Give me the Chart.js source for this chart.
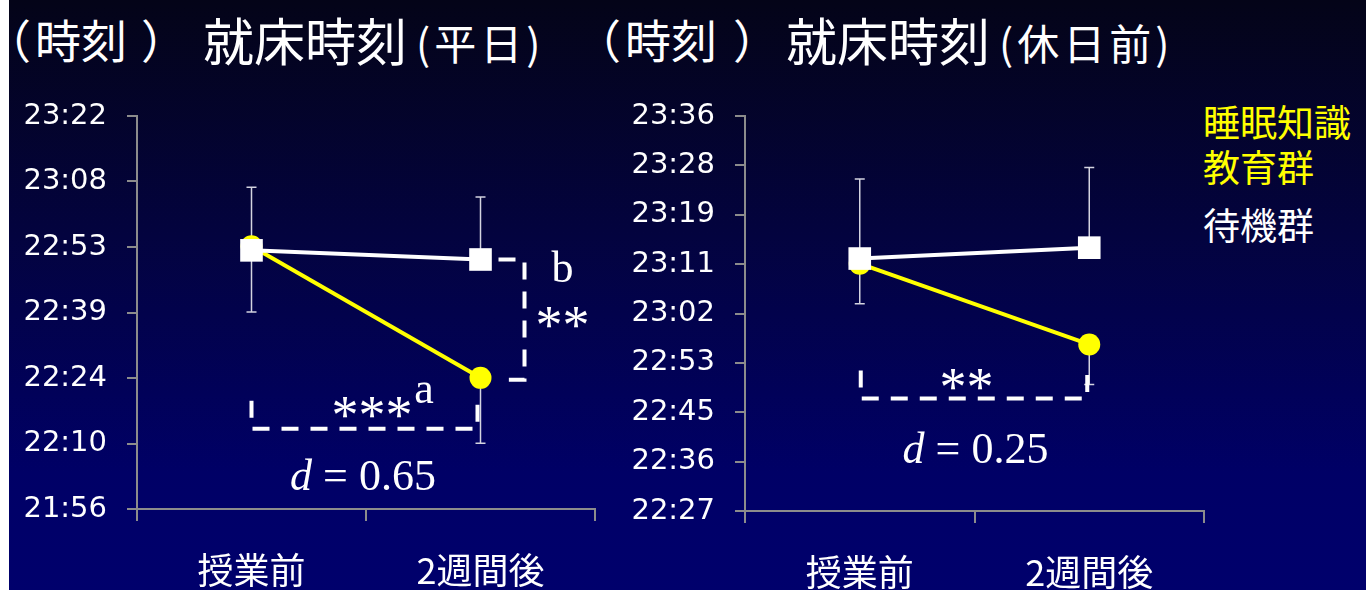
<!DOCTYPE html>
<html lang="ja">
<head>
<meta charset="utf-8">
<title>就床時刻</title>
<script src="https://cdn.jsdelivr.net/npm/chart.js@4.4.1/dist/chart.umd.min.js"></script>
<style>
  html, body { margin: 0; padding: 0; }
  body {
    width: 1366px; height: 590px; overflow: hidden; position: relative;
    background: linear-gradient(to bottom, #040418 0%, #03033f 40%, #000066 80%, #00006c 100%);
    font-family: 'Noto Sans CJK JP', sans-serif; color: #fff;
  }
  .edge { position: absolute; left: 0; top: 0; width: 9px; height: 590px; background: #fff; }
  .t { position: absolute; white-space: nowrap; line-height: 1; }
  .unit { font-size: 46px; top: 15px; }
  .main { font-size: 51px; top: 14px; }
  .sub { font-size: 42px; top: 21px; letter-spacing: 4px; }
  canvas { position: absolute; top: 0; }
  #weekday { left: 0; }
  #holiday { left: 620px; }
  .legend { position: absolute; left: 1203px; font-size: 37px; line-height: 1; white-space: nowrap; }
</style>
</head>
<body>
<div class="edge"></div>

<div class="t unit" style="left:-15px">（</div>
<div class="t unit" style="left:35px">時刻</div>
<div class="t unit" style="left:141px">）</div>
<div class="t main" style="left:203px">就床時刻</div>
<div class="t sub" style="left:416px">(平日)</div>

<div class="t unit" style="left:575px">（</div>
<div class="t unit" style="left:625px">時刻</div>
<div class="t unit" style="left:733px">）</div>
<div class="t main" style="left:786px">就床時刻</div>
<div class="t sub" style="left:999px">(休日前)</div>

<div class="legend" style="top:103px;color:#ffff00">睡眠知識</div>
<div class="legend" style="top:148px;color:#ffff00">教育群</div>
<div class="legend" style="top:206px;color:#ffffff">待機群</div>

<canvas id="weekday" width="640" height="590"></canvas>
<canvas id="holiday" width="746" height="590"></canvas>

<script>
// bedtimes in minutes after midnight
const categories = ['授業前', '2週間後'];

// weekday
const weekdayEdu = [1373.5, 1344.7];
const weekdayWait = [1372.6, 1370.6];
const weekdayEduErr = [14.4, 14.3];
const weekdayWaitErr = [13.8, 13.7];
const weekdayMin = 1316;
const weekdayMax = 1402;
const weekdayTicks = ['21:56', '22:10', '22:24', '22:39', '22:53', '23:08', '23:22'];
const weekdayD = '0.65';

// night before a holiday
const holidayEdu = [1390.2, 1376.1];
const holidayWait = [1391.1, 1393.0];
const holidayEduErr = [7.0, 7.0];
const holidayWaitErr = [13.9, 14.0];
const holidayMin = 1347;
const holidayMax = 1416;
const holidayTicks = ['22:27', '22:36', '22:45', '22:53', '23:02', '23:11', '23:19', '23:28', '23:36'];
const holidayD = '0.25';

const axisGrey = '#8c8c8c';
const yellow = '#ffff00';
const serif = "'Liberation Serif', 'Times New Roman', serif";

// one-sided error bars: wait group up, education group down
const errorBars = {
    id: 'errorBars',
    beforeDatasetsDraw(chart) {
        const { ctx } = chart;
        const y = chart.scales.y;
        ctx.save();
        ctx.strokeStyle = '#d4d4e0';
        ctx.lineWidth = 1.5;
        chart.data.datasets.forEach((ds, i) => {
            chart.getDatasetMeta(i).data.forEach((pt, j) => {
                const end = y.getPixelForValue(ds.data[j] + ds.errDir * ds.err[j]);
                ctx.beginPath();
                ctx.moveTo(pt.x, pt.y);
                ctx.lineTo(pt.x, end);
                ctx.moveTo(pt.x - 5, end);
                ctx.lineTo(pt.x + 5, end);
                ctx.stroke();
            });
        });
        ctx.restore();
    }
};

function bracket(ctx, pts) {
    ctx.save();
    ctx.strokeStyle = '#fff';
    ctx.lineWidth = 4;
    ctx.setLineDash([17, 12]);
    ctx.beginPath();
    ctx.moveTo(pts[0][0], pts[0][1]);
    pts.slice(1).forEach(p => ctx.lineTo(p[0], p[1]));
    ctx.stroke();
    ctx.restore();
}

function text(ctx, str, x, base, size) {
    ctx.save();
    ctx.fillStyle = '#fff';
    ctx.font = size + 'px ' + serif;
    ctx.textAlign = 'center';
    ctx.textBaseline = 'alphabetic';
    ctx.fillText(str, x, base);
    ctx.restore();
}

// "d = 0.65" with an italic d
function effectSize(ctx, cx, base, val) {
    const it = 'italic 44px ' + serif;
    const rm = '44px ' + serif;
    const rest = ' = ' + val;
    ctx.save();
    ctx.fillStyle = '#fff';
    ctx.textAlign = 'left';
    ctx.textBaseline = 'alphabetic';
    ctx.font = it;
    const wd = ctx.measureText('d').width;
    ctx.font = rm;
    const wr = ctx.measureText(rest).width;
    const x = cx - (wd + wr) / 2;
    ctx.font = it;
    ctx.fillText('d', x, base);
    ctx.font = rm;
    ctx.fillText(rest, x + wd, base);
    ctx.restore();
}

const weekdayMarks = {
    id: 'weekdayMarks',
    afterDatasetsDraw(chart) {
        const { ctx } = chart;
        const [pre, post] = chart.getDatasetMeta(1).data;
        const waitPost = chart.getDatasetMeta(0).data[1];
        const mid = (pre.x + post.x) / 2;
        const low = post.y + 51;

        // within-group change
        bracket(ctx, [[pre.x, post.y + 23], [pre.x, low], [post.x - 3, low], [post.x - 3, post.y + 18]]);
        text(ctx, '***', mid + 6, low + 4, 54);
        text(ctx, 'a', mid + 58, low - 26, 44);

        // between groups after two weeks
        bracket(ctx, [[post.x + 18, waitPost.y], [post.x + 44, waitPost.y], [post.x + 44, post.y + 2], [post.x + 25, post.y + 2]]);
        text(ctx, 'b', post.x + 82, waitPost.y + 23, 44);
        text(ctx, '**', post.x + 82, waitPost.y + 84, 54);

        effectSize(ctx, mid - 3, low + 61, weekdayD);
    }
};

const holidayMarks = {
    id: 'holidayMarks',
    afterDatasetsDraw(chart) {
        const { ctx } = chart;
        const [pre, post] = chart.getDatasetMeta(1).data;
        const mid = (pre.x + post.x) / 2;
        const low = post.y + 54;

        bracket(ctx, [[pre.x + 1, post.y + 26], [pre.x + 1, low], [post.x - 2, low], [post.x - 2, post.y + 24]]);
        text(ctx, '**', mid - 8, low + 7, 54);

        effectSize(ctx, mid + 1, low + 65, holidayD);
    }
};

function makeChart(id, cfg) {
    return new Chart(document.getElementById(id), {
        type: 'line',
        data: {
            labels: categories,
            datasets: [
                {
                    label: '待機群',
                    data: cfg.wait,
                    err: cfg.waitErr,
                    errDir: 1,
                    borderColor: '#ffffff',
                    backgroundColor: '#ffffff',
                    borderWidth: 4,
                    pointStyle: 'rect',
                    pointRadius: 16,
                    pointBorderWidth: 0,
                    order: 0
                },
                {
                    label: '睡眠知識教育群',
                    data: cfg.edu,
                    err: cfg.eduErr,
                    errDir: -1,
                    borderColor: yellow,
                    backgroundColor: yellow,
                    borderWidth: 4,
                    pointStyle: 'circle',
                    pointRadius: 11,
                    pointBorderWidth: 0,
                    order: 1
                }
            ]
        },
        options: {
            responsive: false,
            animation: false,
            events: [],
            layout: { padding: { top: 116, right: cfg.padRight, bottom: 0, left: 0 } },
            plugins: {
                legend: { display: false },
                tooltip: { enabled: false }
            },
            scales: {
                x: {
                    offset: true,
                    grid: { offset: true, drawOnChartArea: false, color: axisGrey, lineWidth: 2, tickLength: 12 },
                    border: { color: axisGrey, width: 2 },
                    ticks: {
                        color: '#fff',
                        font: { family: "'Noto Sans CJK JP'", size: 36 },
                        padding: 28,
                        maxRotation: 0
                    },
                    afterFit: s => { s.height = cfg.xHeight; }
                },
                y: {
                    min: cfg.min,
                    max: cfg.max,
                    grid: { drawOnChartArea: false, color: axisGrey, lineWidth: 2, tickLength: 10 },
                    border: { color: axisGrey, width: 2 },
                    ticks: {
                        color: '#fff',
                        font: { family: "'DejaVu Sans'", size: 29 },
                        padding: 20,
                        callback: (v, i) => cfg.ticks[i]
                    },
                    afterBuildTicks: s => {
                        const n = cfg.ticks.length - 1;
                        s.ticks = cfg.ticks.map((_, i) => ({ value: cfg.min + i * (cfg.max - cfg.min) / n }));
                    },
                    afterFit: s => { s.width = cfg.yWidth; }
                }
            }
        },
        plugins: [errorBars, cfg.marks]
    });
}

makeChart('weekday', {
    edu: weekdayEdu, wait: weekdayWait,
    eduErr: weekdayEduErr, waitErr: weekdayWaitErr,
    min: weekdayMin, max: weekdayMax, ticks: weekdayTicks,
    yWidth: 137, padRight: 45, xHeight: 81,
    marks: weekdayMarks
});

makeChart('holiday', {
    edu: holidayEdu, wait: holidayWait,
    eduErr: holidayEduErr, waitErr: holidayWaitErr,
    min: holidayMin, max: holidayMax, ticks: holidayTicks,
    yWidth: 125, padRight: 162, xHeight: 79,
    marks: holidayMarks
});
</script>
</body>
</html>
